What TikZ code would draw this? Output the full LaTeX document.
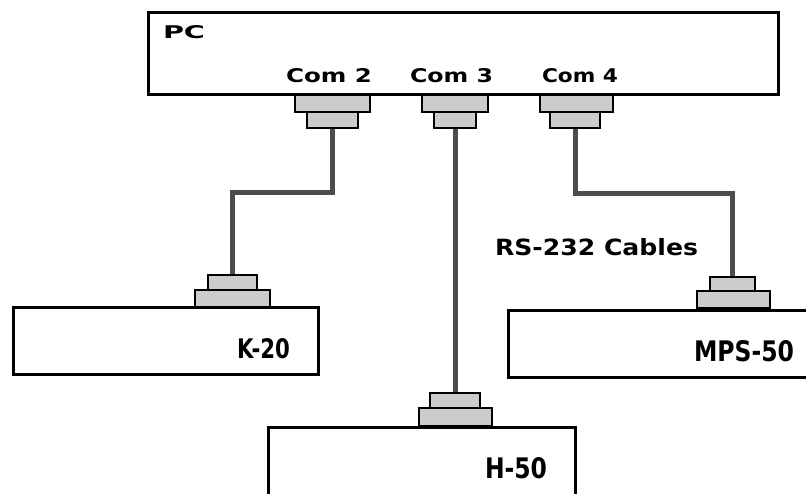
\documentclass[tikz,border=0pt]{standalone}
\usepackage{fontspec}
\setmainfont{DejaVu Sans}
\usepackage{graphicx}
\usetikzlibrary{backgrounds}
\newcommand\mylbl[3]{\resizebox{#1pt}{#2pt}{\bfseries #3}}
\begin{document}
\begin{tikzpicture}[x=1pt,y=-1pt,
  box/.style={draw=black,line width=3pt,fill=white,anchor=north west,inner sep=0pt,outer sep=0pt},
  plug/.style={draw=black,line width=2.5pt,fill=gray!40,anchor=north west,inner sep=0pt,outer sep=0pt},
  cable/.style={draw=black!70,line width=5pt},
  lab/.style={anchor=north west,inner sep=0pt,outer sep=0pt}]
\useasboundingbox (0,0) rectangle (806,493);
\clip (0,0) rectangle (806,493);
% boxes
\node[box,minimum width=630pt,minimum height=82pt] (pc) at (148,12) {};
\node[box,minimum width=305pt,minimum height=67pt] (k20) at (13,307) {};
\node[box,minimum width=307pt,minimum height=100pt] (h50) at (268,427) {};
\node[box,minimum width=330pt,minimum height=67pt] (mps) at (508,310) {};
% connectors at PC
\node[plug,minimum width=75pt,minimum height=17pt] (c2w) at (295,95) {};
\node[plug,minimum width=51pt,minimum height=16pt] (c2n) at (307,112) {};
\node[plug,minimum width=66pt,minimum height=17pt] (c3w) at (422,95) {};
\node[plug,minimum width=42pt,minimum height=16pt] (c3n) at (434,112) {};
\node[plug,minimum width=73pt,minimum height=17pt] (c4w) at (540,95) {};
\node[plug,minimum width=50pt,minimum height=16pt] (c4n) at (550,112) {};
% connectors at devices
\node[plug,minimum width=49pt,minimum height=15pt] (k20n) at (208,275) {};
\node[plug,minimum width=75pt,minimum height=17pt] (k20w) at (195,290) {};
\node[plug,minimum width=50pt,minimum height=15pt] (h50n) at (430,393) {};
\node[plug,minimum width=73pt,minimum height=18pt] (h50w) at (419,408) {};
\node[plug,minimum width=45pt,minimum height=14pt] (mpsn) at (710,277) {};
\node[plug,minimum width=73pt,minimum height=17pt] (mpsw) at (697,291) {};
% cables
\begin{scope}[on background layer]
\fill[white] (0,0) rectangle (806,493);
\draw[cable] (c2n.south) -- ++(0,64) -| (k20n.north);
\draw[cable] (c3n.south) -- (c3n.south |- h50n.north);
\draw[cable] (c4n.south) -- ++(0,65) -| (mpsn.north);
\end{scope}
% labels
\node[lab] (tpc) at (163,25) {\mylbl{42}{13}{PC}};
\node[lab] (tc2) at (286,68) {\mylbl{86}{14}{Com 2}};
\node[lab] (tc3) at (410,68) {\mylbl{83}{14}{Com 3}};
\node[lab] (tc4) at (542,68) {\mylbl{76}{14}{Com 4}};
\node[lab] (trs) at (495,238) {\mylbl{203}{17}{RS-232 Cables}};
\node[lab] (tk20) at (237,338) {\mylbl{53}{20}{K-20}};
\node[lab] (th50) at (485,457) {\mylbl{62}{21}{H-50}};
\node[lab] (tmps) at (694,340) {\mylbl{100}{21}{MPS-50}};
\end{tikzpicture}
\end{document}
